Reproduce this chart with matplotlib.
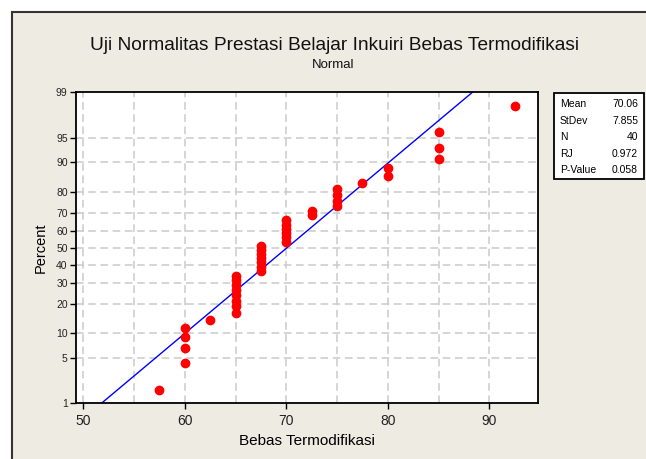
import numpy as np
import matplotlib.pyplot as plt
from matplotlib.patches import Rectangle
from statistics import NormalDist

# scores (sorted) and their plotted percent
scores = [57.5,
          60, 60, 60, 60,
          62.5,
          65, 65, 65, 65, 65, 65, 65, 65,
          67.5, 67.5, 67.5, 67.5, 67.5, 67.5, 67.5,
          70, 70, 70, 70, 70, 70,
          72.5, 72.5,
          75, 75, 75, 75,
          77.5,
          80, 80,
          85, 85, 85,
          92.5]
percent = [1.7, 4.2, 6.7, 9.2, 11.6, 14.1, 16.6, 19.1, 21.5, 24.0,
           26.5, 29.0, 31.4, 33.9, 36.4, 38.9, 41.3, 43.8, 46.3, 48.8,
           51.2, 53.7, 56.2, 58.7, 61.1, 63.6, 66.1, 68.6, 71.0, 73.5,
           76.0, 78.5, 80.9, 83.4, 85.9, 88.4, 90.8, 93.3, 95.8, 98.3]

mean = 70.06
stdev = 7.855
stat_names = ['Mean', 'StDev', 'N', 'RJ', 'P-Value']
stat_values = ['70.06', '7.855', '40', '0.972', '0.058']

y_ticks = [1, 5, 10, 20, 30, 40, 50, 60, 70, 80, 90, 95, 99]
x_ticks = [50, 60, 70, 80, 90]
x_grid = [50, 55, 60, 65, 70, 75, 80, 85, 90]

nd = NormalDist()
def z(p):
    return nd.inv_cdf(p / 100.0)

W, H = 646, 459
def px(x, y):
    return x / W, 1 - y / H

plt.rcParams['font.family'] = ['Liberation Sans', 'DejaVu Sans']
bg = '#EEEBE2'

fig = plt.figure(figsize=(W / 100, H / 100), dpi=100)
fig.patch.set_facecolor('white')
fig.patches.append(Rectangle(px(12, 470), 660 / W, 458 / H, transform=fig.transFigure,
                             facecolor=bg, edgecolor='#333333', linewidth=1.5, zorder=-10))

l, b = px(76, 403.3)
r, t = px(538, 92.3)
ax = fig.add_axes([l, b, r - l, t - b], zorder=2)
ax.set_facecolor('white')

zmin, zmax = z(1), z(99)
for g in x_grid:
    ax.axvline(g, color='#CACACA', lw=1.1, ls=(0, (5, 3)), zorder=1)
for p in y_ticks[1:-1]:
    ax.axhline(z(p), color='#CACACA', lw=1.1, ls=(0, (5, 3)), zorder=1)

# fitted normal line
xl = np.array([mean + zmin * stdev, mean + zmax * stdev])
ax.plot(xl, (xl - mean) / stdev, color='#0000FF', lw=1, zorder=2)

ax.plot(scores, [z(p) for p in percent], 'o', color='#FF0000', ms=6, mec='#FF0000', zorder=3)

ax.set_xlim(49.28, 94.8)
ax.set_ylim(zmin, zmax)
ax.set_xticks(x_ticks)
ax.set_xticklabels([str(v) for v in x_ticks], fontsize=10, color='#222222')
ax.set_yticks([z(p) for p in y_ticks])
ax.set_yticklabels([str(p) for p in y_ticks], fontsize=7.5, color='#222222')
ax.tick_params(length=4, width=1, pad=2)
ax.tick_params(axis='x', pad=4)
for s in ax.spines.values():
    s.set_linewidth(1.3)
    s.set_color('black')

ax.set_xlabel('Bebas Termodifikasi', fontsize=11, labelpad=4)
ax.set_ylabel('Percent', fontsize=10.5, labelpad=6)

fig.text(*px(334, 46), 'Uji Normalitas Prestasi Belajar Inkuiri Bebas Termodifikasi',
         ha='center', va='center', fontsize=13.8, color='#111111')
fig.text(*px(333, 65), 'Normal', ha='center', va='center', fontsize=9.5, color='#111111')

# statistics box
bl, bb = px(554, 179)
bw, bh = (644 - 554) / W, (179 - 92.7) / H
fig.patches.append(Rectangle((bl, bb), bw, bh, transform=fig.transFigure,
                             facecolor='white', edgecolor='black', linewidth=1.3, zorder=5))
for i, (n, v) in enumerate(zip(stat_names, stat_values)):
    yy = 104 + i * 16.6
    fig.text(*px(560, yy), n, ha='left', va='center', fontsize=7.5, zorder=6)
    fig.text(*px(638, yy), v, ha='right', va='center', fontsize=7.5, zorder=6)

fig.savefig('out.png', dpi=100, facecolor=fig.get_facecolor())
